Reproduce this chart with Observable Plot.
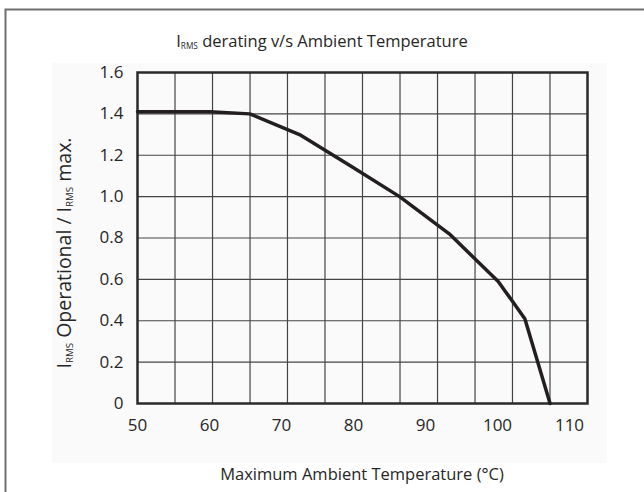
<!DOCTYPE html>
<html><head><meta charset="utf-8">
<script src="https://cdn.jsdelivr.net/npm/d3@7"></script>
<script src="https://cdn.jsdelivr.net/npm/@observablehq/plot@0.6"></script>
<style>
body{margin:0;background:#fff;overflow:hidden}
#chart{position:relative;width:644px;height:492px}
</style>
</head><body><div id="chart"></div>
<script>
// Data
const temperature = [50, 60, 65.6, 72.5, 79.5, 86.4, 93.3, 100.1, 103.8, 107.3];
const currentRatio = [1.41, 1.41, 1.40, 1.30, 1.15, 1.00, 0.82, 0.59, 0.41, 0];
const xTickLabels = [50, 60, 70, 80, 90, 100, 110];
const yTickLabels = [0, 0.2, 0.4, 0.6, 0.8, 1.0, 1.2, 1.4, 1.6];
const xGridLines = [55.21, 60.42, 65.63, 70.83, 76.04, 81.25, 86.46, 91.67, 96.88, 102.08, 107.29];
const titleParts = [["I", false], ["RMS", true], [" derating v/s Ambient Temperature", false]];
const yLabelParts = [["I", false], ["RMS", true], [" Operational / I", false], ["RMS", true], [" max.", false]];
const xLabelText = "Maximum Ambient Temperature (°C)";

const data = temperature.map((t, i) => ({t, r: currentRatio[i]}));
const font = "'Open Sans', sans-serif";

const plot = Plot.plot({
  width: 644, height: 492,
  marginLeft: 137, marginRight: 57, marginTop: 72, marginBottom: 89,
  style: {fontFamily: font, fontSize: "17px", color: "#262626", background: "transparent"},
  x: {domain: [50, 112.5], ticks: xTickLabels, tickSize: 0, tickPadding: 15, label: null, tickFormat: d => String(d)},
  y: {domain: [0, 1.6], ticks: yTickLabels, tickSize: 0, tickPadding: 14, label: null,
      tickFormat: d => d === 0 ? "0" : d.toFixed(1)},
  marks: [
    Plot.ruleX(xGridLines, {stroke: "#444", strokeWidth: 1.2}),
    Plot.ruleY(yTickLabels.filter(d => d > 0 && d < 1.6), {stroke: "#444", strokeWidth: 1.2}),
    Plot.frame({stroke: "#2a2a2a", strokeWidth: 2.5}),
    Plot.line(data, {x: "t", y: "r", stroke: "#231f20", strokeWidth: 3.5, strokeLinejoin: "round"})
  ]
});
document.getElementById("chart").appendChild(plot);

const svg = d3.select(plot);
// faint background panel and outer chart border (decoration)
svg.insert("rect", ":first-child").attr("x", 52).attr("y", 63).attr("width", 555).attr("height", 400).attr("fill", "#fafafa");
svg.append("path").attr("d", "M5.5,492V9.5H644").attr("fill", "none").attr("stroke", "#6e6e6e").attr("stroke-width", 2);

function richText(parts, size, attrs) {
  const t = svg.append("text").attr("font-family", font).attr("font-size", size).attr("fill", "#262626");
  for (const [k, v] of Object.entries(attrs)) t.attr(k, v);
  for (const [s, sub] of parts) {
    const sp = t.append("tspan").text(s);
    if (sub) sp.attr("font-size", size * 0.5).attr("baseline-shift", "-20%");
  }
  return t;
}
richText(titleParts, 16.5, {x: 322, y: 47, "text-anchor": "middle"});
richText(yLabelParts, 19.5, {transform: "translate(71,253) rotate(-90)", "text-anchor": "middle"});
richText([[xLabelText, false]], 16.5, {x: 362, y: 480, "text-anchor": "middle"});
</script>
</body></html>
